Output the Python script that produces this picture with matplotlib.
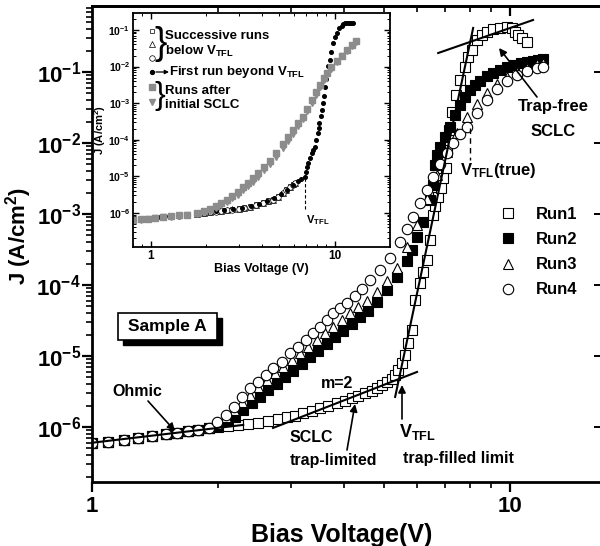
import numpy as np
import matplotlib
matplotlib.use('Agg')
import matplotlib.pyplot as plt
from matplotlib.lines import Line2D
from matplotlib.patches import Rectangle
from matplotlib.ticker import FixedLocator, FuncFormatter, NullFormatter, LogLocator

# ---- main plot data (Bias voltage V, current density J in A/cm^2) ----
run1_v = [1.00, 1.09, 1.19, 1.29, 1.39, 1.50, 1.60, 1.70, 1.79, 1.90,
          2.00, 2.12, 2.24, 2.36, 2.50, 2.64, 2.79, 2.93, 3.06, 3.20,
          3.36, 3.51, 3.67, 3.86, 4.03, 4.19, 4.33, 4.50, 4.68, 4.81,
          4.94, 5.08, 5.22, 5.31, 5.40, 5.52, 5.61, 5.70, 5.83, 5.93,
          6.09, 6.19, 6.33, 6.44, 6.54, 6.62, 6.73, 6.84, 6.91, 7.03,
          7.07, 7.15, 7.27, 7.43, 7.59, 7.80, 7.93, 8.11, 8.34, 8.57,
          8.81, 9.11, 9.47, 9.84, 10.1, 10.3, 10.45, 10.7, 11.0]
run1_j = [5.96e-7, 6.15e-7, 6.56e-7, 7.0e-7, 7.47e-7, 7.97e-7, 8.2e-7, 8.8e-7, 9.1e-7, 9.7e-7,
          1.0e-6, 1.03e-6, 1.07e-6, 1.10e-6, 1.14e-6, 1.22e-6, 1.30e-6, 1.38e-6, 1.43e-6, 1.57e-6,
          1.68e-6, 1.85e-6, 1.98e-6, 2.18e-6, 2.32e-6, 2.56e-6, 2.73e-6, 3.01e-6, 3.21e-6, 3.54e-6,
          3.91e-6, 4.31e-6, 4.74e-6, 5.4e-6, 6.35e-6, 7.97e-6, 1.03e-5, 1.52e-5, 2.32e-5, 6.15e-5,
          1.07e-4, 1.52e-4, 2.25e-4, 4.3e-4, 9.7e-4, 1.30e-3, 1.73e-3, 2.32e-3, 3.21e-3, 4.45e-3,
          7.97e-3, 1.52e-2, 2.73e-2, 4.74e-2, 7.71e-2, 0.117, 0.163, 0.204, 0.282, 0.332,
          0.366, 0.403, 0.417, 0.431, 0.417, 0.366, 0.332, 0.301, 0.265]

run2_v = [1.00, 1.09, 1.19, 1.29, 1.39, 1.50, 1.60, 1.70, 1.79, 1.90,
          1.99, 2.10, 2.20, 2.30, 2.41, 2.52, 2.64, 2.77, 2.90, 3.03,
          3.18, 3.32, 3.47, 3.65, 3.81, 3.99, 4.19, 4.38, 4.57, 4.81,
          5.08, 5.37, 5.67, 5.83, 5.99, 6.19, 6.44, 6.54, 6.62, 6.69,
          6.80, 6.99, 7.19, 7.39, 7.59, 7.80, 8.02, 8.25, 8.48, 8.81,
          9.11, 9.47, 9.84, 10.2, 10.6, 11.0, 11.35, 11.65, 12.0]
run2_j = [5.96e-7, 6.15e-7, 6.56e-7, 7.0e-7, 7.47e-7, 7.97e-7, 8.2e-7, 8.8e-7, 9.1e-7, 9.7e-7,
          1.03e-6, 1.22e-6, 1.38e-6, 1.73e-6, 2.18e-6, 2.65e-6, 3.32e-6, 4.03e-6, 5.06e-6, 6.15e-6,
          7.71e-6, 9.68e-6, 1.175e-5, 1.48e-5, 1.85e-5, 2.25e-5, 2.82e-5, 3.54e-5, 4.31e-5, 5.76e-5,
          8.5e-5, 1.30e-4, 2.18e-4, 3.11e-4, 4.74e-4, 7.71e-4, 1.57e-3, 2.56e-3, 4.9e-3, 6.78e-3,
          8.8e-3, 1.22e-2, 1.68e-2, 2.48e-2, 3.43e-2, 4.45e-2, 5.57e-2, 6.5e-2, 7.47e-2, 8.8e-2,
          9.7e-2, 0.107, 0.117, 0.126, 0.134, 0.139, 0.143, 0.148, 0.152]

run3_v = [1.00, 1.09, 1.19, 1.29, 1.39, 1.50, 1.60, 1.70, 1.79, 1.90,
          1.99, 2.09, 2.19, 2.29, 2.39, 2.50, 2.62, 2.74, 2.86, 3.01,
          3.15, 3.29, 3.45, 3.61, 3.77, 3.96, 4.14, 4.33, 4.55, 4.81,
          5.08, 5.37, 5.67, 5.99, 6.33, 6.69, 7.07, 7.47, 7.89, 8.34,
          8.81, 9.31, 9.84, 10.4, 11.0, 11.6, 12.0]
run3_j = [5.96e-7, 6.15e-7, 6.56e-7, 7.0e-7, 7.47e-7, 7.97e-7, 8.2e-7, 8.8e-7, 9.1e-7, 9.7e-7,
          1.1e-6, 1.4e-6, 1.73e-6, 2.25e-6, 2.82e-6, 3.66e-6, 4.59e-6, 5.76e-6, 7.0e-6, 8.8e-6,
          1.10e-5, 1.34e-5, 1.68e-5, 2.11e-5, 2.56e-5, 3.21e-5, 4.03e-5, 4.9e-5, 5.95e-5, 7.97e-5,
          1.14e-4, 1.73e-4, 3.4e-4, 7.0e-4, 1.6e-3, 3.5e-3, 7.5e-3, 1.4e-2, 2.3e-2, 3.5e-2,
          5.0e-2, 6.8e-2, 8.5e-2, 0.10, 0.115, 0.128, 0.133]

run4_v = [1.00, 1.09, 1.19, 1.29, 1.39, 1.50, 1.60, 1.70, 1.79, 1.90,
          1.99, 2.09, 2.19, 2.29, 2.39, 2.50, 2.61, 2.71, 2.85, 2.98,
          3.11, 3.25, 3.38, 3.51, 3.65, 3.77, 3.92, 4.07, 4.26, 4.43,
          4.63, 4.89, 5.16, 5.46, 5.67, 5.86, 6.09, 6.33, 6.54, 6.80,
          7.07, 7.31, 7.59, 7.89, 8.34, 8.81, 9.31, 9.84, 10.4, 11.0,
          11.6, 12.0]
run4_j = [5.96e-7, 6.15e-7, 6.56e-7, 7.0e-7, 7.47e-7, 7.97e-7, 8.2e-7, 8.8e-7, 9.1e-7, 9.7e-7,
          1.175e-6, 1.48e-6, 1.91e-6, 2.65e-6, 3.54e-6, 4.31e-6, 5.40e-6, 6.78e-6, 8.23e-6, 1.10e-5,
          1.34e-5, 1.68e-5, 2.11e-5, 2.56e-5, 3.21e-5, 4.03e-5, 4.74e-5, 5.57e-5, 7.0e-5, 8.8e-5,
          1.17e-4, 1.63e-4, 2.40e-4, 4.03e-4, 6.15e-4, 9.1e-4, 1.43e-3, 2.18e-3, 3.32e-3, 5.06e-3,
          7.23e-3, 1.0e-2, 1.34e-2, 1.68e-2, 2.65e-2, 4.03e-2, 5.76e-2, 7.47e-2, 9.08e-2, 0.103,
          0.114, 0.117]

# fitted guide lines (end points)
ohmic_v, ohmic_j = [1.0, 2.3], [6.0e-7, 1.07e-6]
sclc_v, sclc_j = [2.71, 5.99], [9.7e-7, 5.96e-6]
tfl_v, tfl_j = [5.31, 8.16], [2.65e-6, 0.417]
free_v, free_j = [6.73, 11.35], [0.185, 0.54]

# ---- inset data ----
ins_below_v = [0.80, 0.88, 0.96, 1.05, 1.16, 1.28, 1.42, 1.58, 1.78, 1.95,
               2.09, 2.25, 2.42, 2.59, 2.78, 3.0, 3.2, 3.45, 3.75, 4.06,
               4.35, 4.6, 4.9, 5.21, 5.45, 5.7, 5.9, 6.06]
ins_below_sq = [6.6e-7, 6.9e-7, 7.1e-7, 7.4e-7, 7.8e-7, 8.2e-7, 8.6e-7, 9.1e-7, 9.7e-7, 1.02e-6,
                1.07e-6, 1.12e-6, 1.17e-6, 1.22e-6, 1.27e-6, 1.33e-6, 1.41e-6, 1.5e-6, 1.7e-6, 1.95e-6,
                2.2e-6, 2.4e-6, 2.9e-6, 3.6e-6, 4.4e-6, 5.3e-6, 6.1e-6, 6.7e-6]
ins_below_tri = [6.5e-7, 6.8e-7, 7.0e-7, 7.3e-7, 7.7e-7, 8.1e-7, 8.5e-7, 9.0e-7, 9.6e-7, 1.0e-6,
                 1.05e-6, 1.1e-6, 1.15e-6, 1.2e-6, 1.25e-6, 1.3e-6, 1.38e-6, 1.45e-6, 1.65e-6, 1.9e-6,
                 2.1e-6, 2.3e-6, 2.8e-6, 3.5e-6, 4.3e-6, 5.2e-6, 6.0e-6, 6.6e-6]
ins_below_circ = [6.4e-7, 6.7e-7, 6.9e-7, 7.2e-7, 7.6e-7, 8.0e-7, 8.4e-7, 8.9e-7, 9.5e-7, 9.9e-7,
                  1.03e-6, 1.08e-6, 1.13e-6, 1.18e-6, 1.23e-6, 1.28e-6, 1.35e-6, 1.42e-6, 1.6e-6, 1.85e-6,
                  2.05e-6, 2.25e-6, 2.7e-6, 3.4e-6, 4.2e-6, 5.1e-6, 5.9e-6, 6.5e-6]

ins_first_v = [0.80, 0.9, 1.0, 1.12, 1.25, 1.4, 1.58, 1.78, 2.0, 2.25,
               2.5, 2.8, 3.15, 3.5, 3.9, 4.3, 4.7, 5.1, 5.5, 5.9,
               6.3, 6.6, 6.87, 6.95, 7.05, 7.13, 7.3, 7.49, 7.65, 7.78,
               7.95, 8.08, 8.17, 8.26, 8.38, 8.5, 8.6, 8.7, 8.82, 8.95,
               9.1, 9.25, 9.4, 9.6, 9.75, 10.0, 10.3, 10.6, 10.9, 11.1,
               11.4, 11.7, 12.0, 12.3, 12.6]
ins_first_j = [6.5e-7, 6.9e-7, 7.2e-7, 7.6e-7, 8.0e-7, 8.5e-7, 9.0e-7, 9.6e-7, 1.03e-6, 1.1e-6,
               1.17e-6, 1.25e-6, 1.35e-6, 1.5e-6, 1.75e-6, 2.05e-6, 2.5e-6, 3.2e-6, 4.3e-6, 5.8e-6,
               7.5e-6, 8.5e-6, 9.6e-6, 1.3e-5, 1.8e-5, 2.3e-5, 3.2e-5, 4.4e-5, 5.3e-5, 6.3e-5,
               1.0e-4, 1.5e-4, 2.1e-4, 2.9e-4, 4.4e-4, 6.5e-4, 1.0e-3, 1.6e-3, 2.8e-3, 4.5e-3,
               7.0e-3, 1.05e-2, 1.5e-2, 2.5e-2, 4.4e-2, 6.5e-2, 8.3e-2, 0.11, 0.13, 0.145,
               0.152, 0.155, 0.155, 0.155, 0.155]

ins_after_v = [0.80, 0.88, 0.96, 1.05, 1.16, 1.28, 1.42, 1.58, 1.78, 1.95,
               2.09, 2.25, 2.42, 2.59, 2.78, 2.97, 3.16, 3.38, 3.60, 3.85,
               4.12, 4.43, 4.80, 5.21, 5.55, 5.91, 6.30, 6.70, 7.10, 7.50,
               7.90, 8.30, 8.70, 9.10, 9.60, 10.3, 11.0, 11.7, 12.4, 13.1]
ins_after_sq = [6.5e-7, 6.8e-7, 7.0e-7, 7.3e-7, 7.7e-7, 8.1e-7, 8.5e-7, 9.0e-7, 1.0e-6, 1.1e-6,
                1.25e-6, 1.5e-6, 1.85e-6, 2.3e-6, 2.9e-6, 3.7e-6, 5.0e-6, 6.6e-6, 8.8e-6, 1.2e-5,
                1.8e-5, 2.7e-5, 4.2e-5, 7.5e-5, 1.15e-4, 1.8e-4, 2.8e-4, 4.2e-4, 7.0e-4, 1.2e-3,
                2.0e-3, 3.2e-3, 4.8e-3, 6.8e-3, 9.5e-3, 1.4e-2, 2.0e-2, 2.8e-2, 3.8e-2, 5.0e-2]
ins_after_tri = [6.3e-7, 6.6e-7, 6.9e-7, 7.2e-7, 7.5e-7, 7.9e-7, 8.3e-7, 8.8e-7, 9.6e-7, 1.05e-6,
                 1.15e-6, 1.35e-6, 1.6e-6, 2.0e-6, 2.5e-6, 3.1e-6, 4.1e-6, 5.4e-6, 7.2e-6, 9.8e-6,
                 1.45e-5, 2.2e-5, 3.4e-5, 6.0e-5, 9.2e-5, 1.45e-4, 2.3e-4, 3.6e-4, 6.0e-4, 1.0e-3,
                 1.7e-3, 2.8e-3, 4.3e-3, 6.2e-3, 8.8e-3, 1.3e-2, 1.9e-2, 2.6e-2, 3.6e-2, 4.7e-2]

y_decades = [1e-6, 1e-5, 1e-4, 1e-3, 1e-2, 1e-1]
legend_labels = ['Run1', 'Run2', 'Run3', 'Run4']

# ---- style ----
plt.rcParams['font.family'] = ['Liberation Sans', 'DejaVu Sans']
plt.rcParams['font.weight'] = 'bold'
plt.rcParams['axes.labelweight'] = 'bold'
plt.rcParams['mathtext.fontset'] = 'custom'
plt.rcParams['mathtext.rm'] = 'Liberation Sans:bold'
plt.rcParams['mathtext.it'] = 'Liberation Sans:bold'
plt.rcParams['mathtext.bf'] = 'Liberation Sans:bold'
plt.rcParams['mathtext.default'] = 'rm'

W, H = 600.0, 546.0


def fp(x, y):
    # reference pixel -> figure fraction
    return (x / W, 1 - y / H)


def decade_fmt(v, pos):
    return r'$10^{%d}$' % int(round(np.log10(v)))


fig = plt.figure(figsize=(6, 5.46), dpi=100)
ax = fig.add_axes([92 / W, 1 - 482 / H, (601 - 92) / W, (482 - 6) / H])
ax.set_xscale('log')
ax.set_yscale('log')
ax.set_xlim(1, 16.5)
ax.set_ylim(1.68e-7, 0.85)
for s in ax.spines.values():
    s.set_linewidth(2.0)

ax.xaxis.set_major_locator(FixedLocator([1, 10]))
ax.xaxis.set_major_formatter(FuncFormatter(lambda v, p: '%d' % v))
ax.xaxis.set_minor_locator(LogLocator(base=10, subs=np.arange(2, 10) * 1.0, numticks=10))
ax.xaxis.set_minor_formatter(NullFormatter())
ax.yaxis.set_major_locator(FixedLocator(y_decades))
ax.yaxis.set_major_formatter(FuncFormatter(decade_fmt))
ax.yaxis.set_minor_locator(LogLocator(base=10, subs=np.arange(2, 10) * 1.0, numticks=20))
ax.yaxis.set_minor_formatter(NullFormatter())
ax.tick_params(which='major', direction='out', length=7, width=1.6, pad=1)
ax.tick_params(which='minor', direction='out', length=4, width=1.2)
ax.tick_params(axis='y', labelsize=16)
ax.tick_params(axis='x', labelsize=16, pad=3)

top = ax.secondary_xaxis('top')
top.xaxis.set_major_locator(FixedLocator([10]))
top.xaxis.set_minor_locator(LogLocator(base=10, subs=np.arange(2, 10) * 1.0, numticks=10))
top.xaxis.set_minor_formatter(NullFormatter())
top.tick_params(which='both', direction='in', labeltop=False)
top.tick_params(which='major', length=7, width=1.6)
top.tick_params(which='minor', length=4, width=1.2)
top.spines['top'].set_linewidth(2.0)
right = ax.secondary_yaxis('right')
right.yaxis.set_major_locator(FixedLocator(y_decades))
right.yaxis.set_minor_locator(FixedLocator([]))
right.tick_params(which='major', direction='in', length=5, width=1.4, labelright=False)

ax.set_xlabel('Bias Voltage(V)', fontsize=18)
ax.xaxis.set_label_coords((342 - 92) / 509.0, -(523 - 482) / 476.0)
ax.set_ylabel('J (A/cm$^{2}$)', fontsize=16)
ax.yaxis.set_label_coords(-(92 - 34) / 509.0, (482 - 236) / 476.0)

mk = dict(linestyle='none', mec='black', mew=0.8)
ax.plot(run1_v, run1_j, marker='s', ms=6.5, mfc='white', **mk)
ax.plot(run2_v, run2_j, marker='s', ms=6.5, mfc='black', **mk)
ax.plot(run3_v, run3_j, marker='^', ms=7, mfc='white', **mk)
ax.plot(run4_v, run4_j, marker='o', ms=7.5, mfc='white', **mk)

for lv, lj in [(ohmic_v, ohmic_j), (sclc_v, sclc_j), (tfl_v, tfl_j), (free_v, free_j)]:
    ax.plot(lv, lj, color='black', lw=1.5, zorder=5)

handles = [Line2D([], [], marker='s', ms=7, mfc='white', **mk),
           Line2D([], [], marker='s', ms=7, mfc='black', **mk),
           Line2D([], [], marker='^', ms=7.5, mfc='white', **mk),
           Line2D([], [], marker='o', ms=7.5, mfc='white', **mk)]
ax.legend(handles, legend_labels, loc='upper left', bbox_to_anchor=fp(491, 199),
          bbox_transform=fig.transFigure, frameon=False, fontsize=12,
          handlelength=1.0, handletextpad=1.2, labelspacing=0.6, borderpad=0)

# annotations
arrow = dict(arrowstyle='-|>', color='black', lw=1.2, mutation_scale=11, shrinkA=0, shrinkB=0)


def note(text, x, y, size=11.5, **kw):
    fig.text(*fp(x, y), text, ha='center', va='center', fontsize=size, **kw)


def arr(x0, y0, x1, y1):
    ax.annotate('', xy=fp(x1, y1), xycoords='figure fraction',
                xytext=fp(x0, y0), textcoords='figure fraction', arrowprops=arrow)


note('Ohmic', 137, 392)
arr(148, 401, 175, 431)
note('m=2', 337, 383)
note('SCLC', 311, 437)
note('trap-limited', 334, 460)
arr(347, 450, 355, 404)
note(r'V$_{\mathregular{TFL}}$', 417, 432, size=13)
arr(402, 419, 402, 385)
note('trap-filled limit', 458, 458)
note('Trap-free', 553, 107, size=12)
note('SCLC', 553, 132, size=12)
arr(537, 97, 499, 48)
note(r'V$_{\mathregular{TFL}}$(true)', 498, 170, size=12)
fig.add_artist(Line2D([470 / W, 470 / W], [1 - 128 / H, 1 - 160 / H], color='black',
                      lw=1.0, ls=(0, (4, 3))))

# Sample A box with drop shadow
fig.add_artist(Rectangle(fp(123, 345), 99 / W, 27 / H, transform=fig.transFigure,
                         fc='black', ec='black'))
fig.add_artist(Rectangle(fp(118, 340), 99 / W, 27 / H, transform=fig.transFigure,
                         fc='white', ec='black', lw=1.2))
note('Sample A', 167, 326, size=12.5)

# ---- inset ----
ins = fig.add_axes([133 / W, 1 - 247 / H, 257 / W, 234 / H])
ins.set_xscale('log')
ins.set_yscale('log')
ins.set_xlim(0.8, 20)
ins.set_ylim(1.17e-7, 0.29)
for s in ins.spines.values():
    s.set_linewidth(1.3)
ins.xaxis.set_major_locator(FixedLocator([1, 10]))
ins.xaxis.set_major_formatter(FuncFormatter(lambda v, p: '%d' % v))
ins.xaxis.set_minor_locator(LogLocator(base=10, subs=np.arange(2, 10) * 1.0, numticks=10))
ins.xaxis.set_minor_formatter(NullFormatter())
ins.yaxis.set_major_locator(FixedLocator(y_decades))
ins.yaxis.set_major_formatter(FuncFormatter(decade_fmt))
ins.yaxis.set_minor_locator(LogLocator(base=10, subs=np.arange(2, 10) * 1.0, numticks=20))
ins.yaxis.set_minor_formatter(NullFormatter())
ins.tick_params(which='both', direction='in', top=True, right=True, pad=2)
ins.tick_params(which='major', length=4, width=1.0)
ins.tick_params(which='minor', length=2, width=0.7)
ins.tick_params(axis='y', labelsize=7.5)
ins.tick_params(axis='x', labelsize=8.5)
ins.set_xlabel('Bias Voltage (V)', fontsize=9, labelpad=1)
ins.set_ylabel('J (A/cm$^{2}$)', fontsize=8, labelpad=0)

gray = '#8c8c8c'
imk = dict(linestyle='none', mec='black', mew=0.5, mfc='white')
ins.plot(ins_below_v, ins_below_sq, marker='s', ms=3.5, **imk)
ins.plot(ins_below_v, ins_below_tri, marker='^', ms=3.8, **imk)
ins.plot(ins_below_v, ins_below_circ, marker='o', ms=4, **imk)
ins.plot(ins_first_v, ins_first_j, marker='o', ms=2.6, linestyle='none', color='black')
ins.plot(ins_after_v, ins_after_sq, marker='s', ms=4, linestyle='none', color=gray, mec=gray)
ins.plot(ins_after_v, ins_after_tri, marker='v', ms=4.2, linestyle='none', color=gray, mec=gray)
ins.plot([6.87, 6.87], [9.0e-6, 1.3e-6], color='black', lw=0.8, ls=(0, (3, 2)))
ins.text(6.95, 6.5e-7, r'V$_{\mathregular{TFL}}$', fontsize=8, ha='left', va='center')


def ip(x, y):
    return ((x - 133) / 257.0, 1 - (y - 13) / 234.0)


def ins_mark(x, y, **kw):
    ins.plot(*ip(x, y), transform=ins.transAxes, clip_on=False, linestyle='none', **kw)


def ins_text(x, y, s, size=9.5, **kw):
    ins.text(*ip(x, y), s, transform=ins.transAxes, fontsize=size, ha='left', va='center', **kw)


ins_mark(152, 31, marker='s', ms=3.5, mfc='white', mec='black', mew=0.5)
ins_mark(152, 44, marker='^', ms=4, mfc='white', mec='black', mew=0.5)
ins_mark(152, 58, marker='o', ms=4, mfc='white', mec='black', mew=0.5)
ins_text(154, 44, '}', size=27, fontweight='normal')
ins_text(165, 36, 'Successive runs')
ins_text(165, 51, r'below V$_{\mathregular{TFL}}$')
ins_mark(152, 72, marker='o', ms=2.8, color='black')
ins.annotate('', xy=ip(169, 72), xycoords='axes fraction', xytext=ip(156, 72),
             textcoords='axes fraction',
             arrowprops=dict(arrowstyle='-|>', color='black', lw=0.9, mutation_scale=6,
                             shrinkA=0, shrinkB=0))
ins_text(169, 72, r'First run beyond V$_{\mathregular{TFL}}$')
ins_mark(152, 87, marker='s', ms=4, color=gray, mec=gray)
ins_mark(152, 102, marker='v', ms=4.2, color=gray, mec=gray)
ins_text(154, 96, '}', size=23, fontweight='normal')
ins_text(165, 91, 'Runs after')
ins_text(165, 105, 'initial SCLC')

fig.savefig('out.png', dpi=100)
